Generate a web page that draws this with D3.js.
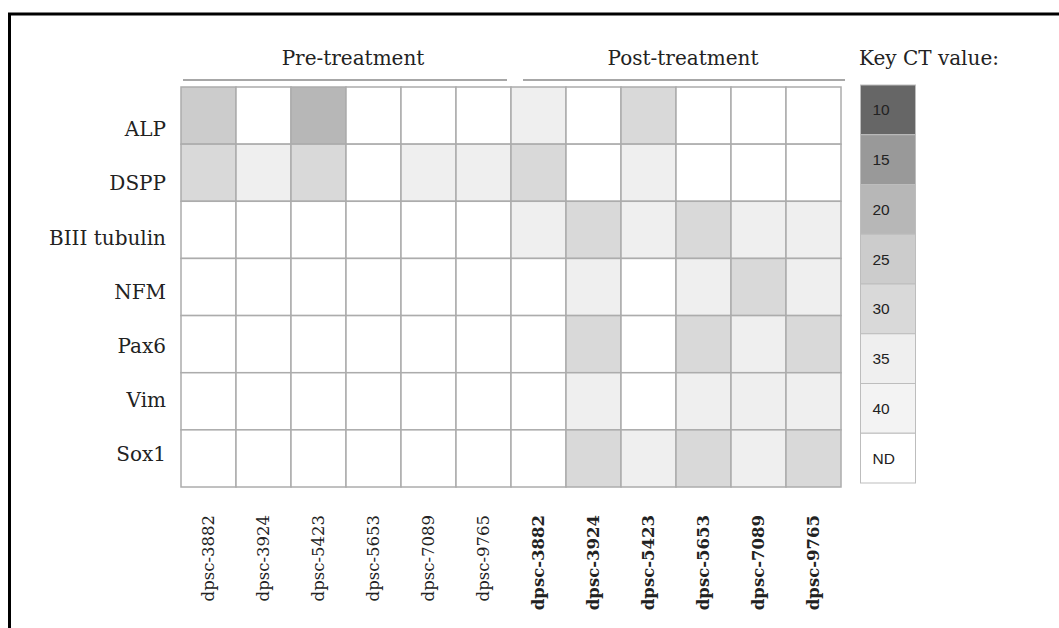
<!DOCTYPE html>
<html>
<head>
<meta charset="utf-8">
<script src="https://cdn.jsdelivr.net/npm/d3@7"></script>
<style>
  html, body { margin: 0; padding: 0; background: #fff; }
  svg { display: block; }
</style>
</head>
<body>
<svg id="chart" width="1059" height="628"></svg>
<script>
// Genes (rows) and samples (columns)
const genes = ["ALP", "DSPP", "BIII tubulin", "NFM", "Pax6", "Vim", "Sox1"];
const samples = ["dpsc-3882", "dpsc-3924", "dpsc-5423", "dpsc-5653", "dpsc-7089", "dpsc-9765"];
const groups = ["Pre-treatment", "Post-treatment"];

// CT value per gene (rows) and sample (columns); null = not detected
const preCT = [
  [25, null, 20, null, null, null],
  [30, 35, 30, null, 35, 35],
  [null, null, null, null, null, null],
  [null, null, null, null, null, null],
  [null, null, null, null, null, null],
  [null, null, null, null, null, null],
  [null, null, null, null, null, null]
];
const postCT = [
  [35, null, 30, null, null, null],
  [30, null, 35, null, null, null],
  [35, 30, 35, 30, 35, 35],
  [null, 35, null, 35, 30, 35],
  [null, 30, null, 30, 35, 30],
  [null, 35, null, 35, 35, 35],
  [null, 30, 35, 30, 35, 30]
];

// Key levels and their shades
const keyLevels = ["10", "15", "20", "25", "30", "35", "40", "ND"];
const keyColors = ["#666666", "#999999", "#b7b7b7", "#cccccc", "#d9d9d9", "#efefef", "#f3f3f3", "#ffffff"];

const svg = d3.select("#chart");
const serif = "'DejaVu Serif', serif";

const color = d3.scaleOrdinal().domain(keyLevels).range(keyColors);
const level = v => (v == null ? "ND" : String(v));

// Column ids combine group and sample
const columns = [];
groups.forEach((g, gi) => samples.forEach(s => columns.push({ id: gi + "|" + s, group: gi, sample: s })));

const x = d3.scaleBand().domain(columns.map(c => c.id)).range([181, 841]);
const y = d3.scaleBand().domain(genes).range([87, 487]);
const labelY = d3.scalePoint().domain(genes).range([129, 454]);

// Outer frame
svg.append("rect")
  .attr("x", 9.5).attr("y", 14)
  .attr("width", 1200).attr("height", 800)
  .attr("fill", "none").attr("stroke", "#000").attr("stroke-width", 3);

// Heatmap cells
const cells = [];
genes.forEach((g, gi) => {
  columns.forEach((c, ci) => {
    const v = (c.group === 0 ? preCT : postCT)[gi][ci % samples.length];
    cells.push({ gene: g, col: c.id, value: v });
  });
});

svg.append("g").selectAll("rect")
  .data(cells)
  .join("rect")
  .attr("x", d => x(d.col))
  .attr("y", d => y(d.gene))
  .attr("width", x.bandwidth())
  .attr("height", y.bandwidth())
  .attr("fill", d => color(level(d.value)))
  .attr("stroke", "#acacac")
  .attr("stroke-width", 1.5);

// Row labels
svg.append("g").selectAll("text")
  .data(genes)
  .join("text")
  .attr("x", 166)
  .attr("y", d => labelY(d))
  .attr("dy", "0.36em")
  .attr("text-anchor", "end")
  .attr("font-family", serif)
  .attr("font-size", 20)
  .attr("fill", "#222")
  .text(d => d);

// Column labels, rotated
svg.append("g").selectAll("text")
  .data(columns)
  .join("text")
  .attr("transform", d => `translate(${x(d.id) + x.bandwidth() / 2},515) rotate(-90)`)
  .attr("dy", "0.36em")
  .attr("text-anchor", "end")
  .attr("font-family", serif)
  .attr("font-size", 16.5)
  .attr("font-weight", d => (d.group === 1 ? "bold" : "normal"))
  .attr("fill", "#222")
  .text(d => d.sample);

// Group headers with underline
groups.forEach((g, gi) => {
  const ids = columns.filter(c => c.group === gi).map(c => c.id);
  const left = x(ids[0]);
  const right = x(ids[ids.length - 1]) + x.bandwidth();
  svg.append("line")
    .attr("x1", left + (gi === 0 ? 2 : 12))
    .attr("x2", right + (gi === 0 ? -4 : 4))
    .attr("y1", 80).attr("y2", 80)
    .attr("stroke", "#8a8a8a").attr("stroke-width", 1.5);
  svg.append("text")
    .attr("x", (left + right) / 2 + 7)
    .attr("y", 65)
    .attr("text-anchor", "middle")
    .attr("font-family", serif)
    .attr("font-size", 20)
    .attr("fill", "#222")
    .text(g);
});

// Key
const keyY = d3.scaleBand().domain(keyLevels).range([85, 483]);
const keyX = 860.5, keyW = 55;

svg.append("text")
  .attr("x", 859).attr("y", 65)
  .attr("font-family", serif)
  .attr("font-size", 20)
  .attr("fill", "#222")
  .text("Key CT value:");

const key = svg.append("g").selectAll("g")
  .data(keyLevels)
  .join("g");
key.append("rect")
  .attr("x", keyX)
  .attr("y", d => keyY(d))
  .attr("width", keyW)
  .attr("height", keyY.bandwidth())
  .attr("fill", d => color(d))
  .attr("stroke", "#bdbdbd")
  .attr("stroke-width", 1);
key.append("text")
  .attr("x", keyX + 12)
  .attr("y", d => keyY(d) + keyY.bandwidth() / 2)
  .attr("dy", "0.36em")
  .attr("font-family", "'Liberation Sans', Arial, sans-serif")
  .attr("font-size", 15.5)
  .attr("fill", "#222")
  .text(d => d);
</script>
</body>
</html>
